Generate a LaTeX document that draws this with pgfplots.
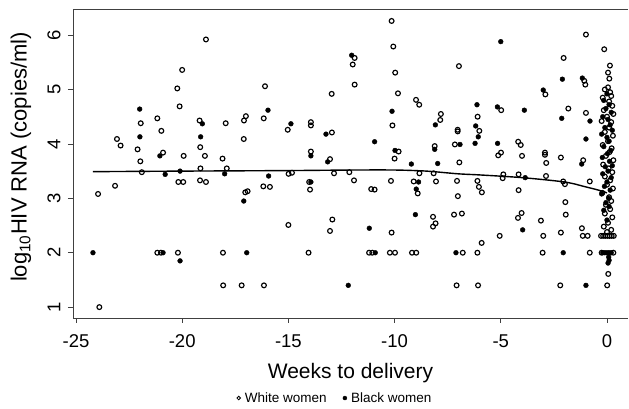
\documentclass[border=0pt]{standalone}
\usepackage{fontspec}
\setmainfont{Liberation Sans}
\usepackage{pgfplots}
\pgfplotsset{compat=1.18}
\begin{document}
\begin{tikzpicture}
\path[use as bounding box] (-73pt,-91pt) rectangle (556pt,318pt);
\begin{axis}[
  scale only axis, width=555pt, height=309pt,
  xmin=-25.14, xmax=0.99, ymin=0.80, ymax=6.48,
  axis x line*=box, axis y line*=left,
  xtick={-25,-20,-15,-10,-5,0}, ytick={1,2,3,4,5,6},
  xtick pos=bottom, ytick pos=left,
  tick align=outside, major tick length=5pt,
  every tick/.style={black!75, line width=0.8pt},
  axis line style={black!75, line width=0.8pt},
  /pgf/number format/assume math mode=true,
  ticklabel style={font=\fontsize{18.5}{20}\selectfont},
  xticklabel shift=8pt,
  yticklabel shift=4pt,
  yticklabel style={rotate=90, anchor=south},
  xlabel={Weeks to delivery},
  ylabel={log\textsubscript{10}HIV RNA (copies/ml)},
  every axis x label/.style={at={(axis description cs:0.5,0)}, anchor=base, yshift=-61pt, font=\fontsize{21}{23}\selectfont},
  every axis y label/.style={at={(axis description cs:-0.0834,0.521)}, rotate=90, anchor=base, font=\fontsize{22}{24}\selectfont},
  legend style={at={(axis description cs:0.472,-0.259)}, anchor=center, draw=none, fill=none,
    font=\fontsize{13.5}{15}\selectfont, legend columns=2,
    /tikz/every odd column/.append style={column sep=2pt},
    /tikz/every even column/.append style={column sep=14pt}},
  legend cell align=left,
]
\addplot[only marks, mark=o, mark size=2.4pt, mark options={line width=1.15pt, black},
  legend image code/.code={\draw[black, line width=0.8pt] (0pt,0pt) circle (1.8pt);}]
  table {
x y
-23.9 1.00
-23.96 3.08
-23.16 3.23
-23.07 4.09
-22.9 3.97
-22.1 3.90
-21.95 4.38
-21.97 3.68
-21.9 3.48
-21.17 4.47
-20.98 4.24
-20.9 3.84
-21.17 2.00
-21.0 2.00
-20.2 2.00
-20.23 5.02
-20.0 5.36
-20.12 4.69
-20.18 3.30
-19.95 3.30
-19.93 3.78
-19.18 4.43
-19.15 3.94
-19.14 3.55
-19.16 3.33
-18.88 3.30
-18.93 3.78
-18.88 5.92
-18.08 2.00
-18.07 1.40
-18.1 3.73
-17.95 4.38
-17.9 3.55
-17.1 4.09
-17.0 4.51
-17.09 4.43
-17.03 3.11
-16.92 3.13
-17.2 1.40
-16.16 4.47
-16.1 5.06
-16.18 3.22
-15.87 3.21
-16.15 1.40
-15.03 4.26
-15.0 2.51
-14.99 3.45
-14.83 3.47
-14.05 2.00
-13.94 4.40
-13.94 4.34
-13.94 3.86
-14.02 3.30
-13.98 3.16
-13.04 3.72
-12.95 4.21
-12.96 4.92
-12.85 3.46
-12.93 2.61
-13.04 2.40
-12.13 3.48
-11.91 3.33
-11.88 5.58
-11.97 5.46
-11.88 5.09
-11.1 3.17
-10.94 3.16
-11.2 2.00
-11.05 2.00
-10.22 2.00
-9.98 2.00
-10.14 6.26
-10.06 5.79
-9.97 5.31
-9.84 4.93
-10.1 4.34
-10.17 3.32
-10.14 2.37
-10.0 3.73
-9.81 3.86
-9.18 2.00
-8.98 2.00
-9.1 3.31
-8.99 4.81
-8.84 4.72
-8.91 3.09
-8.83 3.46
-8.16 3.46
-8.11 3.96
-8.05 3.31
-8.19 2.66
-8.07 2.54
-8.19 2.48
-7.82 4.55
-7.85 4.44
-7.16 3.99
-7.03 4.26
-7.03 4.23
-6.97 5.43
-6.95 3.66
-7.06 3.32
-7.02 3.04
-7.2 2.70
-6.83 2.72
-6.79 2.00
-7.08 1.40
-6.09 4.50
-6.01 4.24
-6.1 3.32
-6.03 3.21
-5.89 3.11
-6.1 2.00
-6.07 1.40
-5.9 2.18
-5.05 2.31
-4.98 4.62
-4.99 3.84
-5.12 3.79
-4.88 3.44
-4.91 3.37
-4.18 4.04
-4.06 3.98
-4.0 3.78
-4.16 3.44
-4.16 3.15
-4.02 2.73
-4.19 2.64
-3.11 2.59
-3.0 2.31
-3.03 2.00
-2.9 4.91
-2.92 3.84
-2.92 3.80
-2.86 3.65
-2.87 3.41
-2.04 5.58
-1.82 4.65
-2.17 3.75
-2.06 3.31
-1.98 3.26
-1.96 2.93
-1.94 2.70
-2.17 2.37
-2.2 1.40
-0.99 6.01
-1.07 5.16
-1.02 5.09
-0.99 4.57
-1.12 3.70
-0.81 3.31
-1.18 2.45
-1.14 2.31
-0.91 2.31
-0.81 2.00
-0.13 5.74
0.14 5.44
0.05 5.31
0.11 5.20
0.05 5.04
-0.1 5.00
0.15 4.95
0.2 4.88
-0.2 4.85
0.1 4.78
0.25 4.70
-0.15 4.62
0.3 4.55
0.0 4.50
-0.25 4.42
0.2 4.40
0.1 4.30
-0.1 4.22
0.28 4.15
0.05 4.05
-0.2 3.98
0.22 3.92
0.12 3.85
-0.05 3.78
0.3 3.70
-0.18 3.62
0.08 3.55
0.25 3.48
-0.1 3.40
0.15 3.33
0.0 3.25
0.28 3.18
-0.22 3.10
0.1 3.02
0.2 2.95
-0.05 2.88
0.15 2.80
-0.1 2.72
0.25 2.65
0.05 2.55
-0.15 2.48
0.2 2.42
0.0 2.38
-0.28 2.31
-0.18 2.31
-0.08 2.31
0.02 2.31
0.12 2.31
0.22 2.31
0.32 2.31
-0.25 2.00
0.3 2.00
0.06 1.61
0.01 1.40
};
\addlegendentry{White women}
\addplot[only marks, mark=*, mark size=2.4pt, mark options={black, fill=black},
  legend image code/.code={\fill[black] (0pt,0pt) circle (2pt);}]
  table {
x y
-24.2 2.00
-22.0 4.64
-21.99 4.13
-21.05 3.78
-20.8 3.44
-20.1 3.50
-20.1 1.85
-20.9 2.00
-19.05 4.37
-19.13 4.13
-18.0 3.45
-17.1 2.95
-16.96 2.00
-15.96 4.62
-15.93 3.41
-14.88 4.37
-13.94 3.78
-13.94 3.30
-13.23 4.18
-13.15 3.67
-12.02 5.63
-12.18 1.40
-11.19 2.45
-10.94 4.04
-10.91 2.00
-10.12 4.60
-9.98 3.88
-9.21 3.63
-8.87 3.30
-8.98 3.17
-9.02 2.70
-8.08 4.35
-8.11 3.90
-7.97 3.64
-6.92 3.99
-7.11 2.00
-6.12 4.72
-6.18 4.33
-6.06 4.13
-6.21 4.01
-5.0 5.88
-5.16 4.68
-5.15 4.01
-3.89 4.62
-3.85 3.38
-3.97 2.42
-3.0 4.99
-2.1 5.19
-2.13 4.47
-2.06 2.00
-1.16 5.21
-0.8 4.42
-0.99 4.09
-1.19 3.63
-0.99 1.40
0.0 4.92
-0.15 4.80
0.1 4.72
-0.05 4.65
0.2 4.58
-0.2 4.50
0.05 4.45
0.15 4.35
-0.1 4.30
0.25 4.25
-0.25 4.18
0.0 4.12
0.1 4.05
-0.15 3.95
0.18 3.88
0.02 3.82
-0.22 3.75
0.12 3.68
0.25 3.60
-0.08 3.58
0.05 3.50
-0.2 3.45
0.2 3.38
0.0 3.30
-0.12 3.22
0.15 3.15
-0.25 3.08
0.08 3.00
-0.05 2.92
0.1 2.85
-0.15 2.78
0.0 2.60
-0.2 2.00
-0.1 2.00
0.0 2.00
0.1 2.00
0.2 2.00
0.08 1.92
0.1 1.86
0.05 1.81
};
\addlegendentry{Black women}
\addplot[black, line width=1.4pt, smooth, forget plot] coordinates {
(-24.2,3.49) (-20,3.50) (-15,3.51) (-12,3.52) (-10,3.52) (-8.5,3.50) (-7,3.45) (-6,3.43) (-4,3.38) (-2,3.30) (-1,3.21) (-0.3,3.14) (0,3.10)
};
\end{axis}
\end{tikzpicture}
\end{document}
